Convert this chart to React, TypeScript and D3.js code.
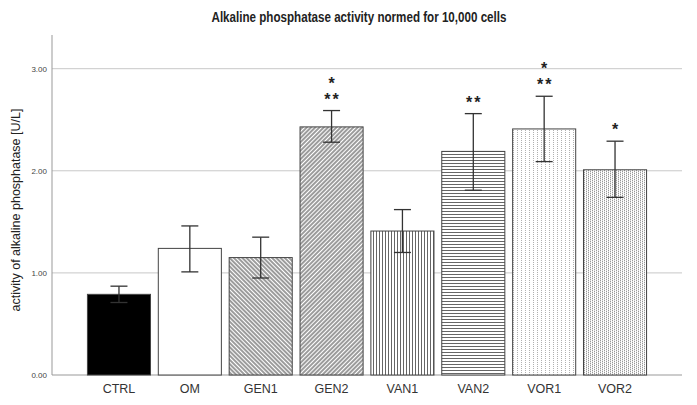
import React from 'react';
import * as d3 from 'd3';

const categories = ['CTRL', 'OM', 'GEN1', 'GEN2', 'VAN1', 'VAN2', 'VOR1', 'VOR2'];
const means = [0.79, 1.24, 1.15, 2.43, 1.41, 2.19, 2.41, 2.01];
const errLow = [0.71, 1.01, 0.95, 2.28, 1.2, 1.81, 2.09, 1.74];
const errHigh = [0.87, 1.46, 1.35, 2.59, 1.62, 2.56, 2.73, 2.29];
const starsNear = ['', '', '', '**', '', '**', '**', '*'];
const starsFar = ['', '', '', '*', '', '', '*', ''];
const yTicks = [0, 1, 2, 3];
const fills = ['#000', '#fff', 'url(#p-gen1)', 'url(#p-gen2)', 'url(#p-van1)', 'url(#p-van2)', 'url(#p-vor1)', 'url(#p-vor2)'];

const width = 697;
const height = 405;
const marginTop = 35;
const marginRight = 15;
const marginBottom = 30;
const marginLeft = 52;
const font = 'Arial, "Liberation Sans", sans-serif';

const App = () => {
  const x = d3.scaleBand()
    .domain(categories)
    .range([marginLeft, width - marginRight])
    .paddingInner(0.11)
    .paddingOuter(0.5);

  const y = d3.scaleLinear()
    .domain([0, 3.33])
    .range([height - marginBottom, marginTop]);

  const bw = x.bandwidth();
  const titleX = (marginLeft + width - marginRight) / 2 - 8;

  return (
    <svg width={width} height={height} style={{ position: 'absolute', left: 0, top: 0, background: '#fff' }}>
      <defs>
        <pattern id="p-gen1" width="3" height="3" patternUnits="userSpaceOnUse" patternTransform="rotate(-45)">
          <rect width="3" height="3" fill="#fff" />
          <line x1="1" y1="0" x2="1" y2="3" stroke="#4a4a4a" strokeWidth="1.1" />
        </pattern>
        <pattern id="p-gen2" width="3" height="3" patternUnits="userSpaceOnUse" patternTransform="rotate(45)">
          <rect width="3" height="3" fill="#fff" />
          <line x1="1" y1="0" x2="1" y2="3" stroke="#4a4a4a" strokeWidth="1.1" />
        </pattern>
        <pattern id="p-van1" width="3" height="3" patternUnits="userSpaceOnUse">
          <rect width="3" height="3" fill="#fff" />
          <line x1="1.5" y1="0" x2="1.5" y2="3" stroke="#666" strokeWidth="1" />
        </pattern>
        <pattern id="p-van2" width="3" height="3" patternUnits="userSpaceOnUse">
          <rect width="3" height="3" fill="#fff" />
          <line x1="0" y1="1.5" x2="3" y2="1.5" stroke="#666" strokeWidth="1" />
        </pattern>
        <pattern id="p-vor1" width="4" height="2" patternUnits="userSpaceOnUse">
          <rect width="4" height="2" fill="#fff" />
          <rect x="1" y="0" width="1" height="1" fill="#b0b0b0" />
        </pattern>
        <pattern id="p-vor2" width="4" height="2" patternUnits="userSpaceOnUse">
          <rect width="4" height="2" fill="#fff" />
          <rect x="0" y="0" width="1" height="1" fill="#999" />
          <rect x="2" y="1" width="1" height="1" fill="#999" />
          <rect x="2" y="0" width="1" height="1" fill="#ddd" />
          <rect x="0" y="1" width="1" height="1" fill="#ddd" />
        </pattern>
      </defs>

      <text transform={`translate(${titleX},22) scale(0.83,1)`} textAnchor="middle"
        fontFamily={font} fontSize={14} fontWeight="bold" fill="#222">
        Alkaline phosphatase activity normed for 10,000 cells
      </text>

      {/* grid */}
      {yTicks.filter(t => t > 0).map(t => (
        <line key={t} x1={marginLeft} x2={width - marginRight} y1={y(t)} y2={y(t)} stroke="#c8c8c8" strokeWidth={1} />
      ))}

      {/* axes */}
      <line x1={marginLeft} x2={marginLeft} y1={marginTop} y2={y(0)} stroke="#999" />
      <line x1={marginLeft} x2={width - marginRight} y1={y(0)} y2={y(0)} stroke="#999" />
      {yTicks.map(t => (
        <text key={t} x={marginLeft - 5} y={y(t) + 3} textAnchor="end" fontFamily={font} fontSize={8} fill="#444">
          {d3.format('.2f')(t)}
        </text>
      ))}
      <text transform={`translate(20,${(marginTop + y(0)) / 2 + 5}) rotate(-90)`} textAnchor="middle"
        fontFamily={font} fontSize={12.5} fill="#222">
        activity of alkaline phosphatase [U/L]
      </text>

      {/* bars */}
      {categories.map((c, i) => (
        <rect key={c} x={x(c)} y={y(means[i])} width={bw} height={y(0) - y(means[i])}
          fill={fills[i]} stroke="#444" strokeWidth={1} />
      ))}

      {/* error bars */}
      {categories.map((c, i) => {
        const cx = (x(c) as number) + bw / 2;
        return (
          <g key={c} stroke="#333" strokeWidth={1.3}>
            <line x1={cx} x2={cx} y1={y(errLow[i])} y2={y(errHigh[i])} />
            <line x1={cx - 8.5} x2={cx + 8.5} y1={y(errHigh[i])} y2={y(errHigh[i])} />
            <line x1={cx - 8.5} x2={cx + 8.5} y1={y(errLow[i])} y2={y(errLow[i])} />
          </g>
        );
      })}

      {/* significance */}
      {categories.map((c, i) => {
        const cx = (x(c) as number) + bw / 2;
        return (
          <g key={c} fontFamily={font} fontSize={16} fontWeight="bold" fill="#222" textAnchor="middle">
            {starsNear[i] && <text x={cx + 1} y={y(errHigh[i]) - 6} letterSpacing={2}>{starsNear[i]}</text>}
            {starsFar[i] && <text x={cx} y={y(errHigh[i]) - 22}>{starsFar[i]}</text>}
          </g>
        );
      })}

      {/* x labels */}
      {categories.map(c => (
        <text key={c} x={(x(c) as number) + bw / 2} y={y(0) + 18} textAnchor="middle"
          fontFamily={font} fontSize={12.5} fill="#333">
          {c}
        </text>
      ))}
    </svg>
  );
};

export default App;
